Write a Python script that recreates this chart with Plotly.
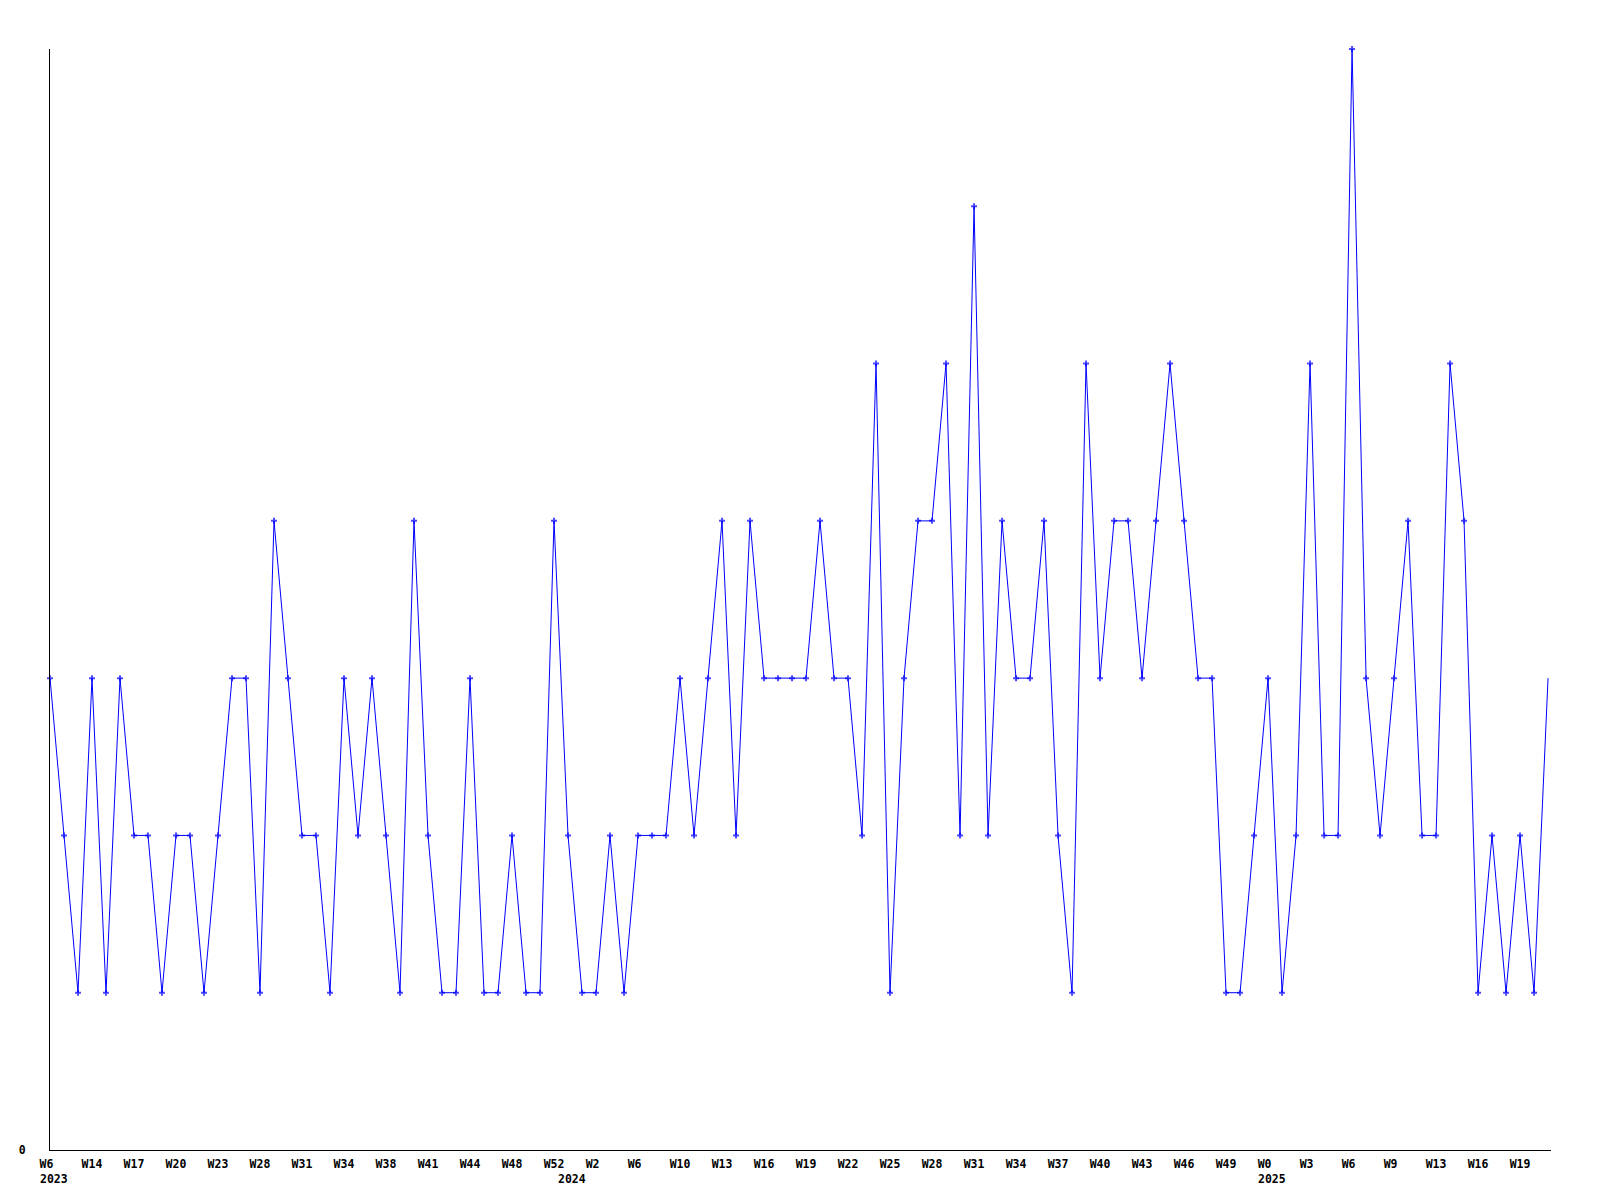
import plotly.graph_objects as go

# Weekly counts (one point per week, evenly spaced)
values = [3, 2, 1, 3, 1, 3, 2, 2, 1, 2, 2, 1, 2, 3, 3, 1, 4, 3, 2, 2,
          1, 3, 2, 3, 2, 1, 4, 2, 1, 1, 3, 1, 1, 2, 1, 1, 4, 2, 1, 1,
          2, 1, 2, 2, 2, 3, 2, 3, 4, 2, 4, 3, 3, 3, 3, 4, 3, 3, 2, 5,
          1, 3, 4, 4, 5, 2, 6, 2, 4, 3, 3, 4, 2, 1, 5, 3, 4, 4, 3, 4,
          5, 4, 3, 3, 1, 1, 2, 3, 1, 2, 5, 2, 2, 7, 3, 2, 3, 4, 2, 2,
          5, 4, 1, 2, 1, 2, 1, 3]
x_index = list(range(len(values)))

# Week tick labels, one on every third point
tick_labels = ["W6", "W14", "W17", "W20", "W23", "W28", "W31", "W34", "W38", "W41",
               "W44", "W48", "W52", "W2", "W6", "W10", "W13", "W16", "W19", "W22",
               "W25", "W28", "W31", "W34", "W37", "W40", "W43", "W46", "W49", "W0",
               "W3", "W6", "W9", "W13", "W16", "W19"]
tick_index = list(range(0, 3 * len(tick_labels), 3))

# Year labels at the first point of each year
year_labels = ["2023", "2024", "2025"]
year_index = [0, 37, 87]

FONT = dict(family="DejaVu Sans Mono", size=11.5, color="black", weight="bold")
BLUE = "#0000ff"

W, H = 1592, 1192
M = dict(l=42, r=49, t=41, b=50)
X_RANGE = [0, 107.21]

marker_sizes = [5] * (len(values) - 1) + [0]

# labels are left-aligned in the original: pad the monospace text to a common width
width = max(len(t) for t in tick_labels)
tick_text = [t + "\u00a0" * (width - len(t)) for t in tick_labels]

fig = go.Figure(go.Scatter(
    x=x_index, y=values, mode="lines+markers",
    line=dict(color=BLUE, width=1),
    marker=dict(symbol="cross", size=marker_sizes, color=BLUE, line=dict(width=0)),
    cliponaxis=False, showlegend=False,
))

for lab, xi in zip(year_labels, year_index):
    fig.add_annotation(x=xi, xref="x", y=0, yref="paper", xshift=-10.5, yshift=-29,
                       text=lab, showarrow=False, font=FONT, borderpad=0, borderwidth=0,
                       xanchor="left", yanchor="middle")

fig.update_layout(
    width=W, height=H,
    margin=dict(**M, pad=0),
    paper_bgcolor="white", plot_bgcolor="white",
    font=FONT,
)
fig.update_xaxes(
    range=X_RANGE, showgrid=False, zeroline=False,
    showline=True, linecolor="black", linewidth=1,
    tickmode="array", tickvals=tick_index, ticktext=tick_text,
    ticks="", tickangle=0, tickfont=FONT, ticklabelstandoff=3,
)
fig.update_yaxes(
    range=[0, 7], showgrid=False, zeroline=False,
    showline=True, linecolor="black", linewidth=1,
    tickmode="array", tickvals=[0], ticktext=["0"],
    ticks="", tickfont=FONT, ticklabelstandoff=21,
)

fig.write_html("out.html")
